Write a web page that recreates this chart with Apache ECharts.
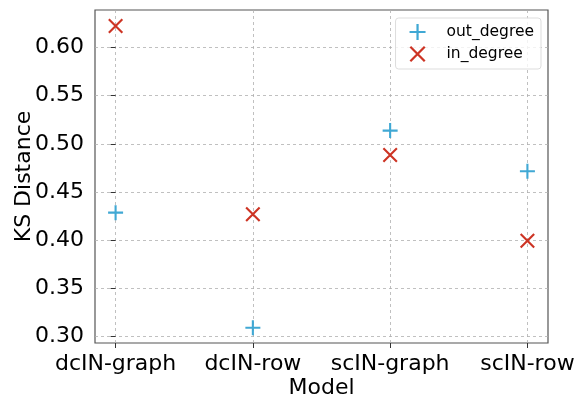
<!DOCTYPE html>
<html><head><meta charset="utf-8">
<script src="https://cdn.jsdelivr.net/npm/echarts@6/dist/echarts.min.js"></script>
<style>html,body{margin:0;padding:0;background:#fff}#c{width:577px;height:397px}</style>
</head><body><div id="c"></div>
<script>
const categories = ['dcIN-graph', 'dcIN-row', 'scIN-graph', 'scIN-row'];
const outDegree = [0.4286, 0.3093, 0.5137, 0.4716];
const inDegree = [0.6221, 0.4270, 0.4885, 0.3996];
const yTicks = [0.30, 0.35, 0.40, 0.45, 0.50, 0.55, 0.60];
const xTicks = [0, 1, 2, 3];

const PLUS = 'path://M0,4.3 H10 V5.7 H0 Z M4.3,0 H5.7 V10 H4.3 Z';
const CROSS = 'path://M0,1.0 L1.0,0 L10,9.0 L9.0,10 Z M9.0,0 L10,1.0 L1.0,10 L0,9.0 Z';
const BLUE = '#40a8d4';
const RED = '#cd3424';
const FONT = 'DejaVu Sans';

const chart = echarts.init(document.getElementById('c'), null, {renderer: 'canvas'});
chart.setOption({
  animation: false,
  textStyle: {fontFamily: FONT},
  grid: {left: 95, right: 29, top: 10, bottom: 54, containLabel: false, outerBoundsMode: 'none',
    show: true, borderColor: '#555', borderWidth: 1.2, backgroundColor: 'transparent'},
  legend: {
    right: 36, top: 18, orient: 'vertical', itemGap: 6, itemWidth: 16, itemHeight: 16,
    padding: [6, 7, 7, 14],
    borderColor: '#dddddd', borderWidth: 1, borderRadius: 3, backgroundColor: 'rgba(255,255,255,0.8)',
    textStyle: {fontFamily: FONT, fontSize: 15.5, color: '#000', padding: [0, 0, 0, 16]},
    data: [{name: 'out_degree', icon: PLUS}, {name: 'in_degree', icon: CROSS}]
  },
  xAxis: {
    type: 'value', min: -0.15, max: 3.15,
    name: 'Model', nameLocation: 'middle', nameGap: 34, nameMoveOverlap: false,
    nameTextStyle: {fontFamily: FONT, fontSize: 22, color: '#000'},
    axisLine: {show: false},
    axisTick: {show: true, customValues: xTicks, length: 5, lineStyle: {color: '#333'}},
    axisLabel: {customValues: xTicks, fontFamily: FONT, fontSize: 22, color: '#000', margin: 10,
      hideOverlap: false, formatter: v => categories[Math.round(v)] || ''},
    splitLine: {show: true, lineStyle: {color: '#b0b0b0', type: [3, 3], width: 0.8}}
  },
  yAxis: {
    type: 'value', min: 0.2935, max: 0.6387,
    name: 'KS Distance', nameLocation: 'middle', nameGap: 60, nameRotate: 90, nameMoveOverlap: false,
    nameTextStyle: {fontFamily: FONT, fontSize: 22, color: '#000'},
    axisLine: {show: false},
    axisTick: {show: true, customValues: yTicks, length: 5, lineStyle: {color: '#333'}},
    axisLabel: {customValues: yTicks, fontFamily: FONT, fontSize: 22, color: '#000', margin: 11,
      formatter: v => v.toFixed(2)},
    splitLine: {show: true, lineStyle: {color: '#b0b0b0', type: [3, 3], width: 0.8}}
  },
  series: [
    {name: 'out_degree', type: 'scatter', symbol: PLUS, symbolSize: 15, itemStyle: {color: BLUE, opacity: 1},
      data: outDegree.map((v, i) => [i, v]), z: 3},
    {name: 'in_degree', type: 'scatter', symbol: CROSS, symbolSize: 15, itemStyle: {color: RED, opacity: 1},
      data: inDegree.map((v, i) => [i, v]), z: 3}
  ]
});
</script></body></html>
